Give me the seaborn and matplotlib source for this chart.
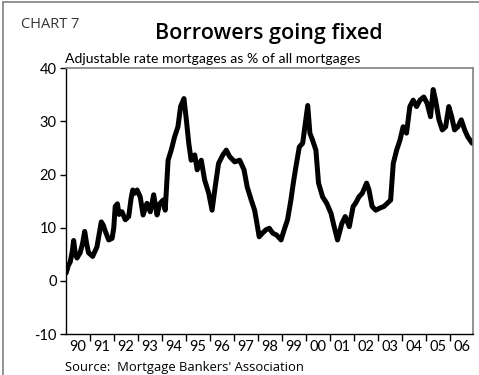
import matplotlib
matplotlib.use("Agg")
import matplotlib.pyplot as plt
from matplotlib.ticker import FixedLocator, NullFormatter
from matplotlib.lines import Line2D
import seaborn as sns
import pandas as pd

# Share of adjustable-rate mortgages, % of all mortgages (decimal years)
dates = [
    1990.02, 1990.10, 1990.19, 1990.27, 1990.33, 1990.40, 1990.47, 1990.60,
    1990.70, 1990.79, 1990.87, 1990.95, 1991.12, 1991.30, 1991.40, 1991.48,
    1991.56, 1991.65, 1991.79, 1991.93, 1992.00, 1992.06, 1992.15, 1992.22,
    1992.34, 1992.48, 1992.62, 1992.72, 1992.79, 1992.88, 1992.97, 1993.10,
    1993.22, 1993.38, 1993.52, 1993.66, 1993.80, 1993.91, 1994.05, 1994.14,
    1994.26, 1994.39, 1994.53, 1994.67, 1994.78, 1994.92, 1995.02, 1995.12,
    1995.22, 1995.37, 1995.47, 1995.64, 1995.78, 1995.95, 1996.09, 1996.22,
    1996.36, 1996.54, 1996.68, 1996.82, 1997.03, 1997.24, 1997.42, 1997.55,
    1997.72, 1997.86, 1997.95, 1998.05, 1998.19, 1998.33, 1998.47, 1998.61,
    1998.78, 1998.96, 1999.09, 1999.23, 1999.37, 1999.47, 1999.58, 1999.72,
    1999.86, 1999.97, 2000.07, 2000.16, 2000.27, 2000.41, 2000.52, 2000.69,
    2000.86, 2001.04, 2001.17, 2001.31, 2001.49, 2001.63, 2001.80, 2001.96,
    2002.06, 2002.20, 2002.34, 2002.52, 2002.62, 2002.75, 2002.90, 2003.07,
    2003.24, 2003.38, 2003.52, 2003.63, 2003.77, 2003.91, 2004.04, 2004.18,
    2004.32, 2004.46, 2004.60, 2004.74, 2004.90, 2005.04, 2005.18, 2005.29,
    2005.39, 2005.53, 2005.67, 2005.81, 2005.94, 2006.06, 2006.18, 2006.32,
    2006.46, 2006.60, 2006.73, 2006.91,
]
arm_share = [
    1.5, 2.8, 3.6, 5.5, 7.6, 5.0, 4.3, 5.3,
    7.0, 9.3, 7.0, 5.3, 4.6, 6.4, 9.0, 11.1,
    10.5, 9.3, 7.7, 8.0, 10.0, 14.0, 14.5, 12.5,
    13.0, 11.5, 12.1, 15.5, 17.1, 16.5, 17.1, 15.8,
    12.4, 14.6, 13.0, 16.2, 12.4, 14.5, 15.2, 13.3,
    22.7, 24.6, 27.1, 29.0, 32.8, 34.3, 30.3, 25.9,
    22.7, 23.7, 20.9, 22.7, 19.0, 16.5, 13.3, 17.7,
    22.1, 23.7, 24.6, 23.4, 22.4, 22.7, 20.9, 17.7,
    15.2, 13.3, 11.0, 8.3, 9.0, 9.6, 9.9, 9.0,
    8.6, 7.7, 9.6, 11.5, 15.2, 18.4, 21.5, 25.2,
    25.9, 29.6, 33.0, 27.8, 26.5, 24.6, 18.4, 15.8,
    14.6, 12.7, 10.2, 7.7, 10.8, 12.1, 10.2, 14.0,
    14.6, 15.8, 16.5, 18.4, 17.1, 14.0, 13.3, 13.7,
    14.0, 14.6, 15.2, 22.1, 24.6, 26.5, 29.0, 27.8,
    32.8, 34.0, 32.8, 34.0, 34.6, 33.4, 30.9, 36.0,
    34.0, 30.3, 28.4, 29.0, 32.8, 30.9, 28.4, 29.0,
    30.3, 28.4, 27.1, 25.9,
]
year_labels = ["90", "91", "92", "93", "94", "95", "96", "97", "98",
               "99", "00", "01", "02", "03", "04", "05", "06"]
y_ticks = [-10, 0, 10, 20, 30, 40]

df = pd.DataFrame({"date": dates, "share": arm_share})

sns.set_theme(style="white")
plt.rcParams["font.family"] = ["Lato", "DejaVu Sans"]

fig = plt.figure(figsize=(4.79, 3.75), dpi=100)
ax = fig.add_axes([0.1372, 0.1093, 0.9881 - 0.1372, 0.8179 - 0.1093])

sns.lineplot(data=df, x="date", y="share", color="black", linewidth=3.6,
             ax=ax, legend=False)

ax.set_xlim(1990.0, 2006.96)
ax.set_ylim(-10, 40)
ax.set_xlabel("")
ax.set_ylabel("")

# Year boundaries carry the tick marks; labels sit mid-year
ax.xaxis.set_major_locator(FixedLocator(list(range(1991, 2007))))
ax.xaxis.set_major_formatter(NullFormatter())
ax.xaxis.set_minor_locator(FixedLocator([1990.5 + i for i in range(len(year_labels))]))
ax.set_xticklabels(year_labels, minor=True)
ax.tick_params(axis="x", which="major", direction="out", length=5, width=1,
               color="black", bottom=True)
ax.tick_params(axis="x", which="minor", length=0, pad=4, labelsize=10.5,
               labelcolor="black")

ax.set_yticks(y_ticks)
ax.set_yticklabels([str(v) for v in y_ticks])
ax.tick_params(axis="y", direction="out", length=4, width=1, color="black",
               left=True, pad=2.5, labelsize=10.5, labelcolor="black")

for side in ("left", "bottom"):
    ax.spines[side].set_color("black")
    ax.spines[side].set_linewidth(1.0)
for side in ("top", "right"):
    ax.spines[side].set_color("#808080")
    ax.spines[side].set_linewidth(1.2)
ax.grid(False)

# Titles and source
fig.text(21 / 479, 1 - 25 / 375, "CHART 7", family=["Open Sans", "DejaVu Sans"],
         fontsize=10.5, color="#333333", ha="left", va="center")
fig.text(269 / 479, 1 - 33 / 375, "Borrowers going fixed",
         family=["Open Sans", "DejaVu Sans"], fontsize=15.5, fontweight="semibold",
         color="black", ha="center", va="center")
fig.text(65 / 479, 1 - 59 / 375, "Adjustable rate mortgages as % of all mortgages",
         fontsize=10.1, color="black", ha="left", va="center")
fig.text(65 / 479, 1 - 367 / 375, "Source:  Mortgage Bankers' Association",
         family=["Open Sans", "DejaVu Sans"], fontsize=9.4, color="black",
         ha="left", va="center")

# Thin grey frame along the top and left of the figure
fig.add_artist(Line2D([3.3 / 479, 1.0], [1 - 1.5 / 375, 1 - 1.5 / 375],
                      transform=fig.transFigure, color="#808080", linewidth=1.2))
fig.add_artist(Line2D([3.3 / 479, 3.3 / 479], [0.0, 1 - 1.5 / 375],
                      transform=fig.transFigure, color="#808080", linewidth=1.2))

fig.savefig("out.png", dpi=100)
